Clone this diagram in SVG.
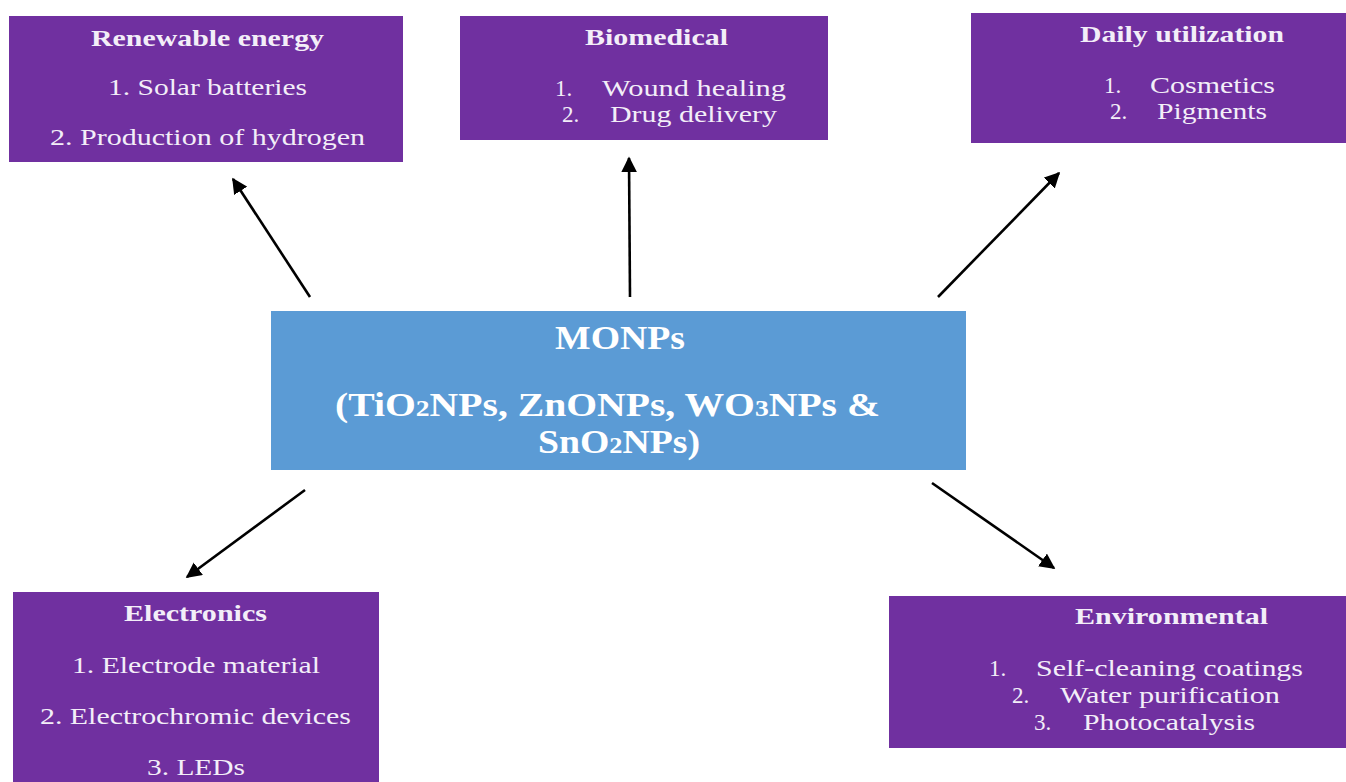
<svg xmlns="http://www.w3.org/2000/svg" width="1346" height="782" viewBox="0 0 1346 782">
<style>
.box{fill:#7030a0}
.center{fill:#5b9bd5}
text{font-family:"Liberation Serif","Times New Roman",serif;fill:#f3eef8}
.h{font-weight:bold;font-size:23px}
.t{font-size:23px}
.c{font-weight:bold;font-size:33px;fill:#ffffff}
.sub{font-size:23px}
.con{stroke:#000;stroke-width:2.6;fill:none;marker-end:url(#ah)}
</style>
<defs>
<marker id="ah" viewBox="0 0 10 10" refX="9" refY="5" markerWidth="6" markerHeight="6" orient="auto" markerUnits="strokeWidth">
<path d="M0,0 L10,5 L0,10 z" fill="#000"/>
</marker>
</defs>
<rect width="1346" height="782" fill="#fff"/>
<g id="connectors">
<line class="con" x1="310" y1="297" x2="233" y2="179"/>
<line class="con" x1="630" y1="297" x2="629" y2="158"/>
<line class="con" x1="938" y1="297" x2="1059" y2="173"/>
<line class="con" x1="305" y1="490" x2="187" y2="577"/>
<line class="con" x1="932" y1="483" x2="1054" y2="568"/>
</g>
<g id="center">
<rect class="center" x="271" y="311" width="695" height="159"/>
<text class="c" x="555" y="349" textLength="130" lengthAdjust="spacingAndGlyphs">MONPs</text>
<text class="c" x="335" y="416" textLength="545" lengthAdjust="spacingAndGlyphs">(TiO<tspan class="sub">2</tspan>NPs, ZnONPs, WO<tspan class="sub">3</tspan>NPs &amp;</text>
<text class="c" x="538" y="453" textLength="162" lengthAdjust="spacingAndGlyphs">SnO<tspan class="sub">2</tspan>NPs)</text>
</g>
<g id="renewable">
<rect class="box" x="9" y="16" width="394" height="146"/>
<text class="h" x="91" y="46" textLength="233" lengthAdjust="spacingAndGlyphs">Renewable energy</text>
<text class="t" x="108" y="95" textLength="199" lengthAdjust="spacingAndGlyphs">1. Solar batteries</text>
<text class="t" x="50" y="145" textLength="315" lengthAdjust="spacingAndGlyphs">2. Production of hydrogen</text>
</g>
<g id="biomedical">
<rect class="box" x="460" y="16" width="368" height="124"/>
<text class="h" x="585" y="45" textLength="143" lengthAdjust="spacingAndGlyphs">Biomedical</text>
<text class="t" x="555" y="96">1.</text>
<text class="t" x="602" y="96" textLength="184" lengthAdjust="spacingAndGlyphs">Wound healing</text>
<text class="t" x="562" y="122">2.</text>
<text class="t" x="610" y="122" textLength="167" lengthAdjust="spacingAndGlyphs">Drug delivery</text>
</g>
<g id="daily">
<rect class="box" x="971" y="13" width="375" height="130"/>
<text class="h" x="1080" y="42" textLength="204" lengthAdjust="spacingAndGlyphs">Daily utilization</text>
<text class="t" x="1104" y="93">1.</text>
<text class="t" x="1150" y="93" textLength="125" lengthAdjust="spacingAndGlyphs">Cosmetics</text>
<text class="t" x="1110" y="119">2.</text>
<text class="t" x="1157" y="119" textLength="110" lengthAdjust="spacingAndGlyphs">Pigments</text>
</g>
<g id="electronics">
<rect class="box" x="13" y="592" width="366" height="190"/>
<text class="h" x="124" y="621" textLength="143" lengthAdjust="spacingAndGlyphs">Electronics</text>
<text class="t" x="72" y="673" textLength="248" lengthAdjust="spacingAndGlyphs">1. Electrode material</text>
<text class="t" x="40" y="724" textLength="311" lengthAdjust="spacingAndGlyphs">2. Electrochromic devices</text>
<text class="t" x="147" y="775" textLength="98" lengthAdjust="spacingAndGlyphs">3. LEDs</text>
</g>
<g id="environmental">
<rect class="box" x="889" y="596" width="457" height="152"/>
<text class="h" x="1075" y="624" textLength="193" lengthAdjust="spacingAndGlyphs">Environmental</text>
<text class="t" x="989" y="676">1.</text>
<text class="t" x="1036" y="676" textLength="267" lengthAdjust="spacingAndGlyphs">Self-cleaning coatings</text>
<text class="t" x="1012" y="703">2.</text>
<text class="t" x="1060" y="703" textLength="220" lengthAdjust="spacingAndGlyphs">Water purification</text>
<text class="t" x="1034" y="730">3.</text>
<text class="t" x="1083" y="730" textLength="172" lengthAdjust="spacingAndGlyphs">Photocatalysis</text>
</g>
</svg>
